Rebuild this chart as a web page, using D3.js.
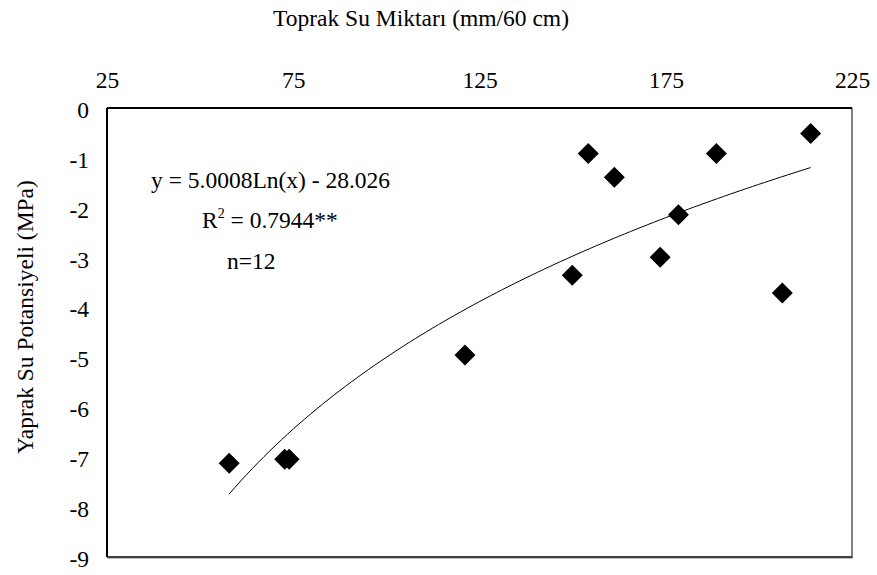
<!DOCTYPE html>
<meta charset="utf-8">
<style>
  body { margin: 0; background: white; }
  svg text { font-family: "Liberation Serif", "DejaVu Serif", serif !important; fill: black; }
</style>
<script src="https://d3js.org/d3.v7.min.js"></script>
<div id="chart"></div>
<script>
// soil water (mm/60 cm) vs leaf water potential (MPa)
var soilWater = [57.8, 72.7, 73.9, 121.1, 149.9, 154.2, 161.2, 173.5, 178.4, 188.6, 206.3, 213.9];
var leafPotential = [-7.12, -7.04, -7.04, -4.95, -3.35, -0.91, -1.39, -2.99, -2.14, -0.91, -3.71, -0.51];
var xTicks = [25, 75, 125, 175, 225];
var yTicks = [0, -1, -2, -3, -4, -5, -6, -7, -8, -9];
// trendline coefficients as printed on the chart
var coefA = 5.0008, coefB = -28.026;

var fontSize = 23.5;

var margin = {top: 108, right: 25, bottom: 18, left: 107},
    width = 877 - margin.left - margin.right,
    height = 575 - margin.top - margin.bottom;

var svg = d3.select("#chart")
  .append("svg")
    .attr("width", 877)
    .attr("height", 575)
    .attr("font-family", "Liberation Serif");

var g = svg.append("g")
    .attr("transform", "translate(" + margin.left + "," + margin.top + ")");

var x = d3.scaleLinear().domain([25, 225]).range([0, width]);
var y = d3.scaleLinear().domain([0, -9]).range([0, height]);

// axes, labels only (Excel style)
var xAxis = g.append("g")
    .call(d3.axisTop(x).tickValues(xTicks).tickSize(0).tickPadding(20)
      .tickFormat(function(d){ return String(d); }));
xAxis.select(".domain").remove();
xAxis.attr("font-family", "Liberation Serif").attr("font-size", fontSize);

var yAxis = g.append("g")
    .call(d3.axisLeft(y).tickValues(yTicks).tickSize(0).tickPadding(18)
      .tickFormat(function(d){ return String(d); }));
yAxis.select(".domain").remove();
yAxis.attr("font-family", "Liberation Serif").attr("font-size", fontSize);
yAxis.selectAll("text").attr("dy", "0.4em");

// plot frame
g.append("line").attr("x1", width).attr("x2", width).attr("y1", 0).attr("y2", height + 1)
    .style("stroke", "#808080").style("stroke-width", 2);
g.append("line").attr("x1", 0).attr("x2", width + 1).attr("y1", height + 1.5).attr("y2", height + 1.5)
    .style("stroke", "#c0c0c0").style("stroke-width", 1);
g.append("line").attr("x1", 0).attr("x2", width).attr("y1", height).attr("y2", height)
    .style("stroke", "#404040").style("stroke-width", 2);
g.append("line").attr("x1", 0).attr("x2", width).attr("y1", 0).attr("y2", 0)
    .style("stroke", "black").style("stroke-width", 2);
g.append("line").attr("x1", 0).attr("x2", 0).attr("y1", 0).attr("y2", height)
    .style("stroke", "black").style("stroke-width", 2);

// logarithmic trendline over the data range
var xMin = d3.min(soilWater), xMax = d3.max(soilWater);
var curve = d3.range(0, 101).map(function(i) {
  var v = xMin + (xMax - xMin) * i / 100;
  return [v, coefA * Math.log(v) + coefB];
});
g.append("path")
    .datum(curve)
    .attr("d", d3.line().x(function(d){ return x(d[0]); }).y(function(d){ return y(d[1]); }))
    .style("fill", "none")
    .style("stroke", "black")
    .style("stroke-width", 1);

// diamond markers
var r = 10.5;
g.selectAll(".pt")
  .data(d3.zip(soilWater, leafPotential))
  .enter()
  .append("path")
    .attr("class", "pt")
    .attr("transform", function(d){ return "translate(" + x(d[0]) + "," + y(d[1]) + ")"; })
    .attr("d", "M0," + (-r) + "L" + r + ",0L0," + r + "L" + (-r) + ",0Z")
    .style("fill", "black");

// equation box
var eq = g.append("g").attr("font-size", fontSize + "px");
eq.append("text").attr("x", 151 - margin.left).attr("y", 188 - margin.top)
    .text("y = 5.0008Ln(x) - 28.026");
var r2 = eq.append("text").attr("x", 202 - margin.left).attr("y", 228 - margin.top);
r2.append("tspan").text("R");
r2.append("tspan").attr("font-size", "14px").attr("dy", "-10").text("2");
r2.append("tspan").attr("dy", "10").text(" = 0.7944**");
eq.append("text").attr("x", 227 - margin.left).attr("y", 269 - margin.top)
    .text("n=12");

// axis titles
svg.append("text")
    .attr("x", 421)
    .attr("y", 26)
    .attr("text-anchor", "middle")
    .attr("font-size", fontSize + "px")
    .text("Toprak Su Miktarı (mm/60 cm)");

svg.append("text")
    .attr("transform", "translate(33,317) rotate(-90)")
    .attr("text-anchor", "middle")
    .attr("font-size", fontSize + "px")
    .text("Yaprak Su Potansiyeli (MPa)");
</script>
